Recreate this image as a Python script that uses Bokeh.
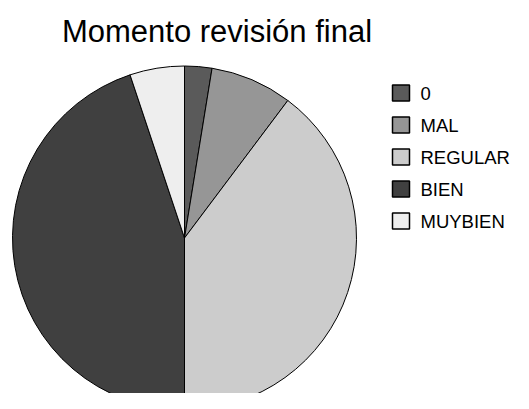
import numpy as np
from bokeh.plotting import figure
from bokeh.models import Range1d, ColumnDataSource
from bokeh.core.properties import value
from bokeh.embed import file_html
from bokeh.resources import INLINE

title_text = "Momento revisión final"
categories = ["0", "MAL", "REGULAR", "BIEN", "MUYBIEN"]
counts = [2, 6, 31, 35, 4]
colors = ["#5a5a5a", "#969696", "#cccccc", "#404040", "#eeeeee"]

W, H = 513, 393


def sy(y):
    return H - y


p = figure(width=W, height=H, output_backend="svg", toolbar_location=None,
           x_range=Range1d(0, W), y_range=Range1d(0, H),
           min_border=0)
p.axis.visible = False
p.grid.visible = False
p.outline_line_color = None
p.background_fill_color = "white"
p.border_fill_color = "white"

vals = np.array(counts, dtype=float)
frac = vals / vals.sum()
cum = np.cumsum(frac)
start = np.pi / 2 - 2 * np.pi * (cum - frac)
end = np.pi / 2 - 2 * np.pi * cum

pie_src = ColumnDataSource(dict(start=start, end=end, color=colors, cat=categories))
p.wedge(x=184, y=sy(237.5), radius=172, start_angle="start", end_angle="end",
        direction="clock", fill_color="color", line_color="black", line_width=1,
        source=pie_src)

# Legend
n = len(categories)
ly = [sy(92.5 + 32 * i) for i in range(n)]
leg_src = ColumnDataSource(dict(y=ly, color=colors, label=categories,
                                sx=[400.5] * n, tx=[420] * n))
p.rect(x="sx", y="y", width=17, height=16, width_units="screen", height_units="screen",
       fill_color="color", line_color="black", line_width=1.5, source=leg_src)
p.text(x="tx", y="y", text="label", text_font=value("Liberation Sans"),
       text_font_size="18.5px", text_baseline="middle", text_align="left",
       text_color="black", source=leg_src)

# Title
p.text(x=[216.5], y=[sy(30.5)], text=[title_text], text_font=value("Liberation Sans"),
       text_font_size="31px", text_baseline="middle", text_align="center",
       text_color="black")

open("out.html", "w").write(file_html(p, INLINE))
